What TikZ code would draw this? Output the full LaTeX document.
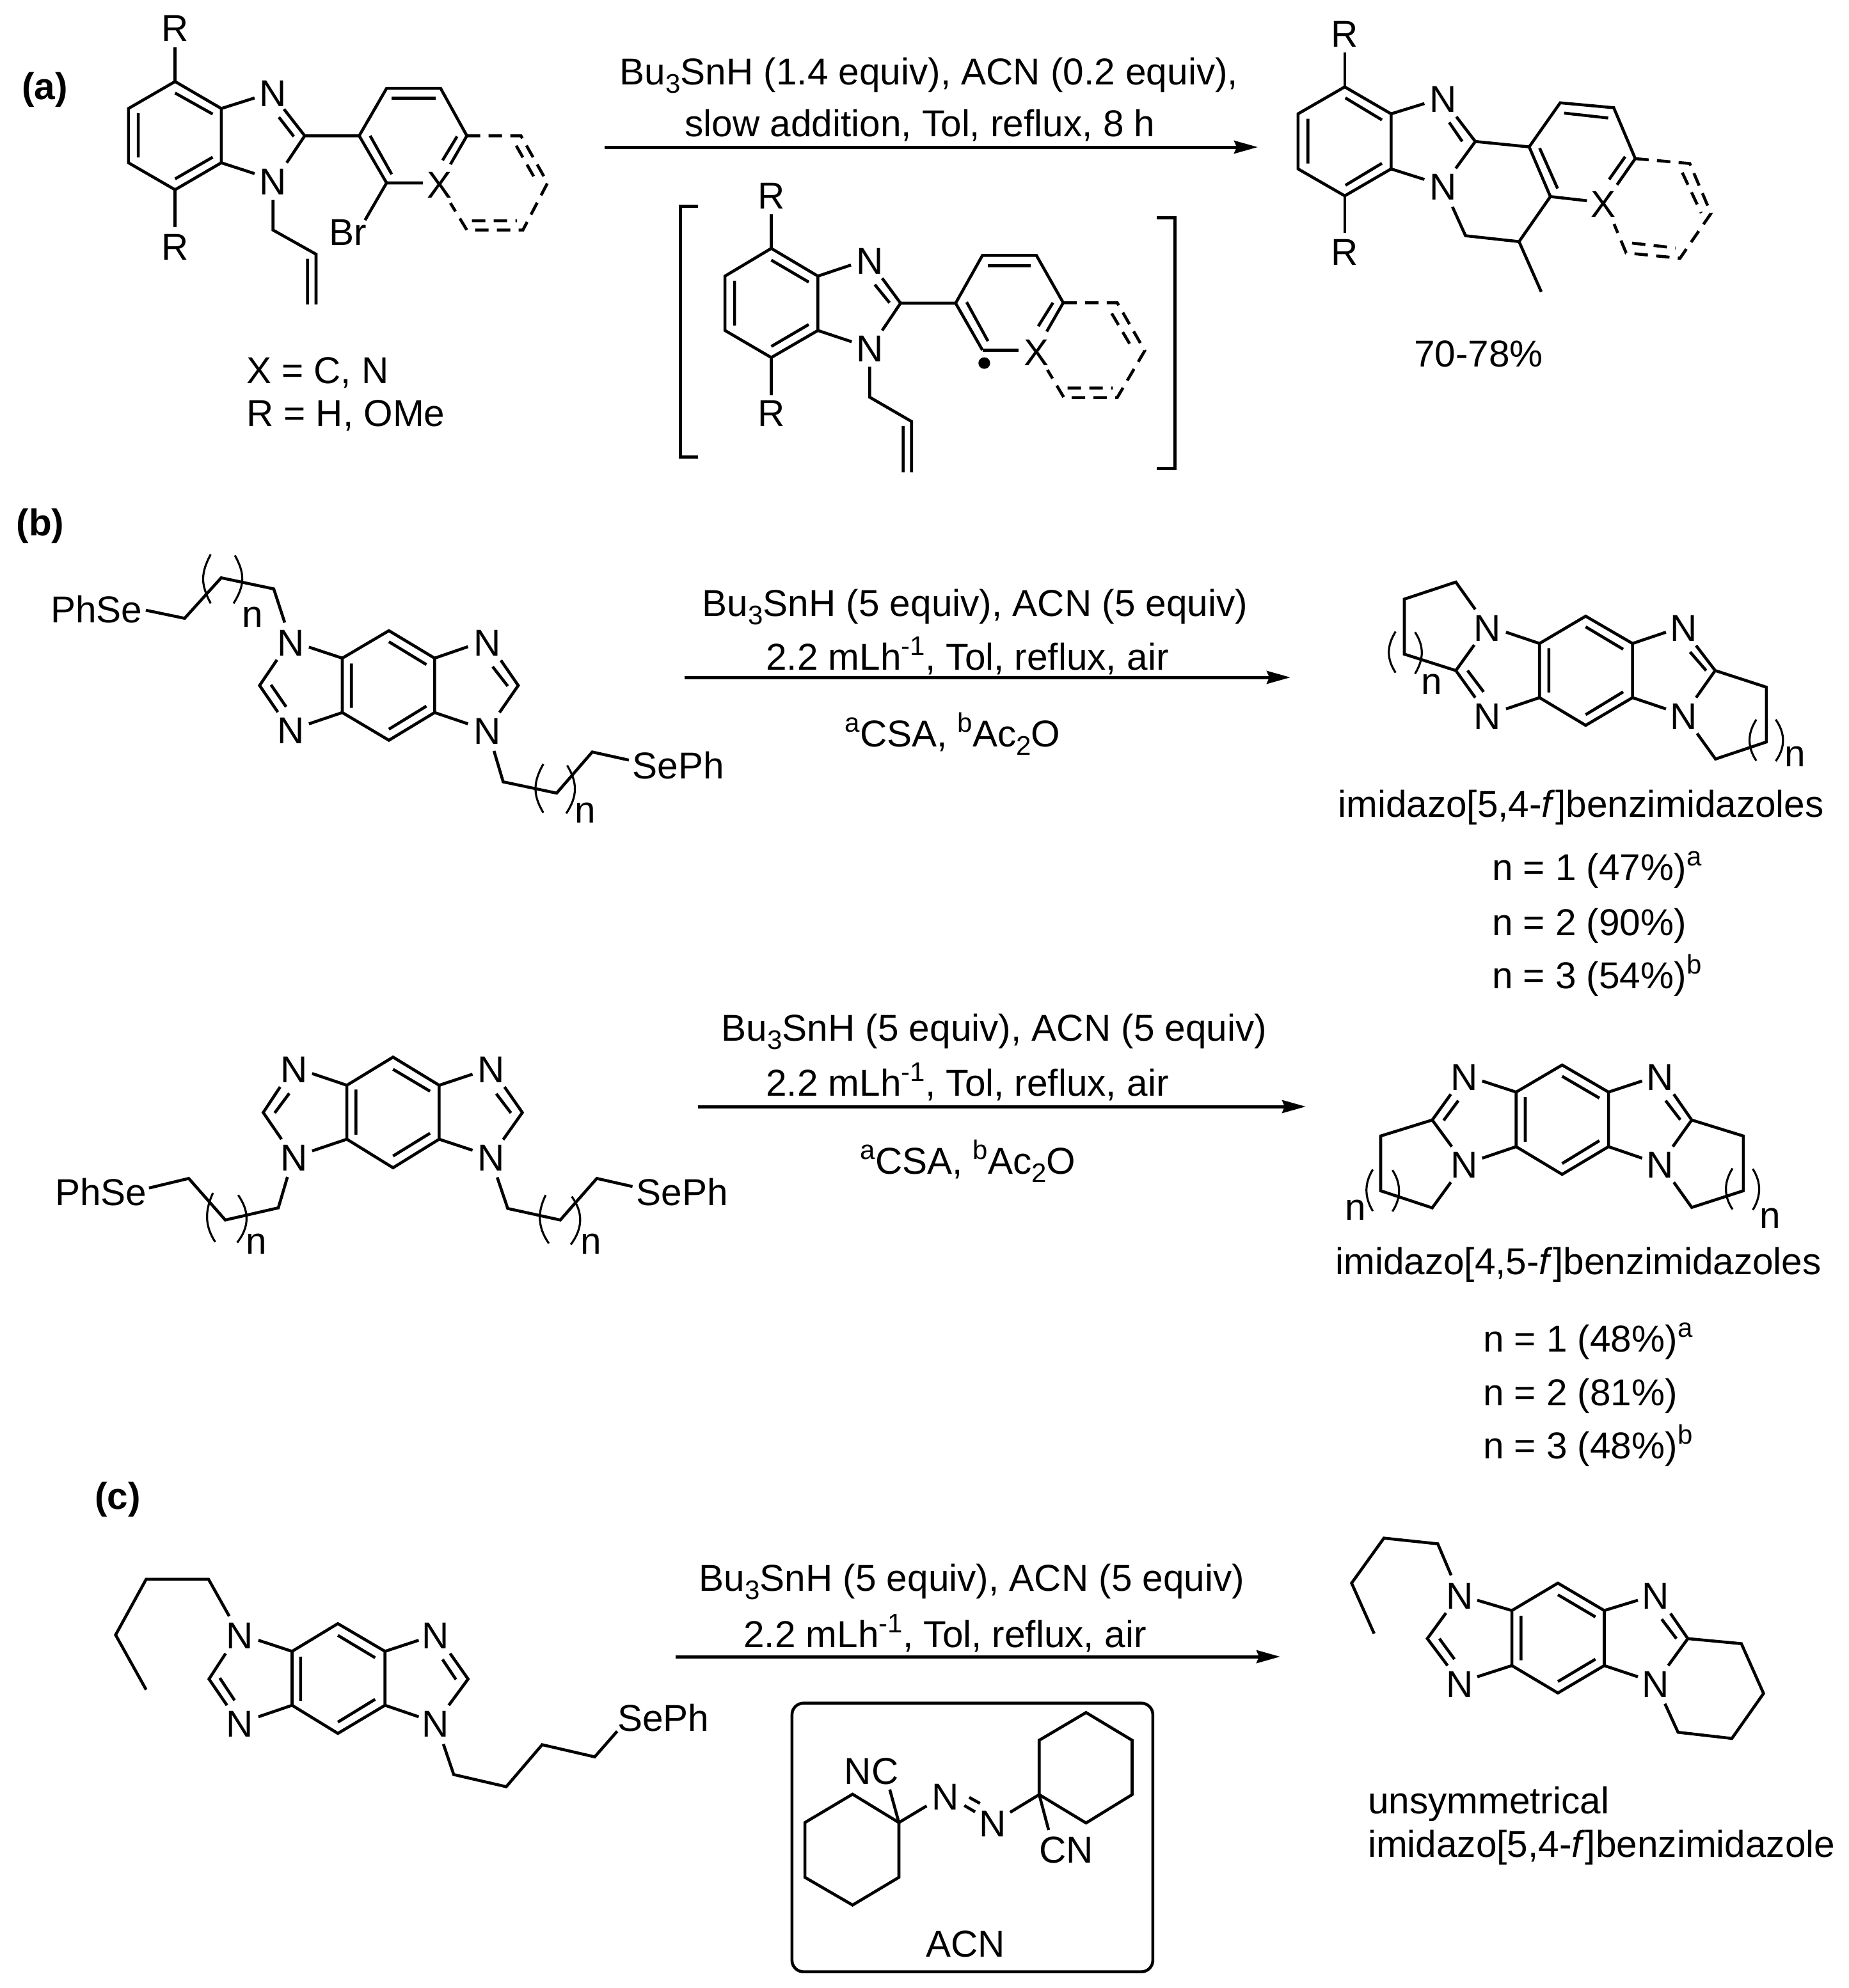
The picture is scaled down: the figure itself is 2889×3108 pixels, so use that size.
\documentclass[tikz,border=0pt]{standalone}
\usepackage{fontspec}
\setmainfont{Liberation Sans}
\usetikzlibrary{arrows.meta}
\newcommand{\sbs}[1]{\raisebox{-13pt}{\fontsize{42}{44}\selectfont #1}}
\newcommand{\sps}[1]{\raisebox{23pt}{\fontsize{42}{44}\selectfont #1}}
\tikzset{
  bond/.style={line width=4.6pt},
  dbond/.style={line width=4.6pt,dash pattern=on 21pt off 13pt},
  paren/.style={line width=3.2pt},
  atom/.style={inner sep=0pt,outer sep=0pt,font=\fontsize{58.5}{70}\selectfont},
  label/.style={atom,anchor=base west},
  clabel/.style={atom,anchor=center},
  blabel/.style={atom,anchor=base},
  tag/.style={inner sep=0pt,font=\fontsize{58.5}{70}\selectfont\bfseries},
  rxn/.style={line width=5pt,-{Stealth[length=37pt,width=20pt,inset=4pt]}},
  brk/.style={line width=5pt},
  za/.style={shift={(0,0)},x=.6122pt,y=-.4847pt},
  zi/.style={shift={(1000,260)},x=.5740pt,y=-.3333pt},
  zp/.style={shift={(1960,0)},x=.5102pt,y=-.3827pt},
  zba/.style={shift={(40,800)},x=.7143pt,y=-.3333pt},
  zbb/.style={shift={(2060,880)},x=.5230pt,y=-.3333pt},
  zbc/.style={shift={(40,1600)},x=.7143pt,y=-.3333pt},
  zbd/.style={shift={(2060,1620)},x=.5102pt,y=-.3333pt},
  zca/.style={shift={(100,2360)},x=.7018pt,y=-.3333pt},
  zcb/.style={shift={(1200,2640)},x=.4209pt,y=-.3333pt},
  zcc/.style={shift={(2060,2360)},x=.5102pt,y=-.3571pt},
}
\begin{document}
\begin{tikzpicture}[x=1pt,y=-1pt]
\useasboundingbox (0,0) rectangle (2889,3108);
\fill[white] (0,0) rectangle (2889,3108);

% ---------- (a) reactant
\node[tag] (taga) at (70,140) {(a)};
\begin{scope}[za,bond]
\draw (447,263)--(565,350)--(565,525)--(447,612)--(328,525)--(328,350)--cycle;
\draw (447,300)--(543,368) (447,577)--(543,507) (353,365)--(353,508);
\node[clabel] (aR1) at (447,92) {R}; \draw (447,152)--(447,263);
\node[clabel] (aR2) at (447,797) {R}; \draw (447,612)--(447,733);
\node[clabel] (aN1) at (697,302) {N}; \draw (565,350)--(650,316);
\draw (778,438)--(725,352) (750,440)--(712,378) (778,438)--(732,525);
\node[clabel] (aN2) at (697,587) {N}; \draw (565,525)--(650,560);
\draw (697,645)--(697,742)--(807,820)--(807,982) (785,835)--(785,982);
\draw (778,438)--(917,438)--(987,285)--(1125,285)--(1192,438);
\draw (1000,317)--(1112,317);
\draw (917,438)--(987,590) (945,438)--(1000,562);
\draw (1192,438)--(1150,530) (1167,440)--(1130,517);
\draw (987,590)--(1080,590) (987,590)--(932,710);
\node[clabel] (aX) at (1123,597) {X};
\node[clabel] (aBr) at (888,750) {Br};
\draw[dbond] (1192,438)--(1330,438)--(1398,590)--(1335,742)--(1192,742)--(1150,655);
\draw[dbond] (1318,470)--(1372,590) (1205,712)--(1320,712);
\end{scope}
\node[label] (aXeq) at (385,599) {X = C, N};
\node[label] (aReq) at (385,666) {R = H, OMe};

% ---------- (a) conditions
\coordinate (arrA1) at (945,230); \coordinate (arrA2) at (1966,230);
\draw[rxn] (arrA1)--(arrA2);
\node[blabel] (condA1) at (1452,132) {Bu\sbs{3}SnH (1.4 equiv), ACN (0.2 equiv),};
\node[blabel] (condA2) at (1438,213) {slow addition, Tol, reflux, 8 h};

% ---------- (a) intermediate
\begin{scope}[zi,bond]
\draw[brk] (158,187)--(110,187)--(110,1363)--(158,1363);
\draw[brk] (1408,241)--(1458,241)--(1458,1417)--(1408,1417);
\draw (358,385)--(485,515)--(485,770)--(358,897)--(232,770)--(232,515)--cycle;
\draw (358,440)--(460,543) (358,845)--(460,742) (258,537)--(258,747);
\node[clabel] (iR1) at (358,140) {R}; \draw (358,225)--(358,385);
\node[clabel] (iR2) at (358,1160) {R}; \draw (358,897)--(358,1075);
\node[clabel] (iN1) at (626,445) {N}; \draw (485,515)--(575,463);
\draw (710,642)--(660,525) (680,640)--(640,555) (710,642)--(660,770);
\node[clabel] (iN2) at (626,857) {N}; \draw (485,770)--(577,823);
\draw (626,940)--(626,1083)--(740,1197)--(740,1435) (717,1218)--(717,1435);
\draw (710,642)--(860,642)--(933,418)--(1080,418)--(1153,640);
\draw (947,467)--(1065,467);
\draw (860,642)--(933,862) (890,637)--(948,820);
\draw (1153,640)--(1108,775) (1125,640)--(1085,750);
\draw (933,862)--(1032,862);
\node[clabel] (iX) at (1080,875) {X};
\fill (938,923) circle[x radius=16,y radius=27];
\draw[dbond] (1153,640)--(1300,640)--(1375,865)--(1300,1085)--(1155,1085)--(1110,955);
\draw[dbond] (1285,690)--(1345,865) (1165,1040)--(1288,1040);
\end{scope}

% ---------- (a) product
\begin{scope}[zp,bond]
\draw (278,355)--(420,465)--(420,690)--(278,800)--(135,690)--(135,465)--cycle;
\draw (280,400)--(392,490) (280,757)--(392,667) (165,485)--(165,668);
\node[clabel] (pR1) at (278,140) {R}; \draw (278,213)--(278,355);
\node[clabel] (pR2) at (278,1030) {R}; \draw (278,800)--(278,952);
\node[clabel] (pN1) at (580,405) {N}; \draw (420,465)--(522,423);
\draw (678,578)--(620,477) (638,578)--(598,500) (678,578)--(618,688);
\node[clabel] (pN2) at (580,765) {N}; \draw (420,690)--(522,733);
\draw (678,578)--(843,600)--(938,420)--(1102,440)--(1168,648);
\draw (950,462)--(1085,482);
\draw (843,600)--(908,803) (875,605)--(930,770);
\draw (1168,648)--(1112,755) (1137,640)--(1088,733);
\draw (908,803)--(1020,820);
\node[clabel] (pX) at (1070,835) {X};
\draw (908,803)--(812,987)--(880,1192) (812,987)--(648,963)--(608,845);
\draw[dbond] (1168,648)--(1335,668)--(1400,872)--(1305,1055)--(1140,1033)--(1103,915);
\draw[dbond] (1312,705)--(1370,870) (1158,993)--(1292,1013);
\node[clabel] (pY) at (688,1445) {70-78\%};
\end{scope}

% ---------- (b) upper
\node[tag] (tagb) at (63,822) {(b)};
\begin{scope}[zba,bond]
\node[clabel] (baPh) at (155,457) {PhSe};
\draw (263,462)--(348,500)--(428,310)--(543,362)--(567,520);
\draw[paren] (405,200) .. controls (383,290) and (383,340) .. (405,430);
\draw[paren] (458,205) .. controls (480,290) and (480,345) .. (455,430);
\node[clabel] (ban1) at (497,495) {n};
\node[clabel] (baN1) at (580,615) {N}; \node[clabel] (baN2) at (580,1028) {N};
\node[clabel] (baN3) at (1010,615) {N}; \node[clabel] (baN4) at (1010,1030) {N};
\draw (795,558)--(895,687)--(895,942)--(795,1072)--(693,942)--(693,687)--cycle;
\draw (795,610)--(877,717) (795,1020)--(877,912) (713,712)--(713,920);
\draw (620,635)--(693,687) (620,995)--(693,942) (968,633)--(895,687) (968,995)--(895,942);
\draw (550,695)--(512,815)--(552,940) (537,812)--(570,915);
\draw (1040,697)--(1078,815)--(1037,942) (1022,727)--(1055,818);
\draw (1025,1122)--(1045,1267)--(1162,1320)--(1240,1127)--(1320,1165);
\draw[paren] (1133,1183) .. controls (1110,1270) and (1110,1330) .. (1133,1412);
\draw[paren] (1185,1190) .. controls (1208,1270) and (1208,1335) .. (1183,1415);
\node[clabel] (ban2) at (1225,1412) {n};
\node[clabel] (baSe) at (1428,1190) {SePh};
\end{scope}
\coordinate (arrB1) at (1070,1059); \coordinate (arrB2) at (2017,1059);
\draw[rxn] (arrB1)--(arrB2);
\node[blabel] (condB1) at (1524,963) {Bu\sbs{3}SnH (5 equiv), ACN (5 equiv)};
\node[blabel] (condB2) at (1512,1047) {2.2 mLh\sps{-1}, Tol, reflux, air};
\node[blabel] (condB3) at (1489,1167) {\sps{a}CSA, \sps{b}Ac\sbs{2}O};

\begin{scope}[zbb,bond]
\node[clabel] (bbN1) at (505,307) {N}; \node[clabel] (bbN2) at (505,720) {N};
\node[clabel] (bbN3) at (1093,307) {N}; \node[clabel] (bbN4) at (1093,720) {N};
\draw (800,250)--(940,378)--(940,632)--(800,762)--(662,632)--(662,378)--cycle;
\draw (800,300)--(912,405) (800,712)--(912,605) (690,400)--(690,608);
\draw (562,325)--(662,378) (562,685)--(662,632) (1040,325)--(940,378) (1040,685)--(940,632);
\draw (470,218)--(412,90)--(258,170)--(258,428)--(412,505)--(467,385);
\draw (412,505)--(470,632) (447,505)--(495,605);
\draw[paren] (232,322) .. controls (205,390) and (205,450) .. (232,515);
\draw[paren] (290,325) .. controls (317,390) and (317,450) .. (290,520);
\node[clabel] (bbn1) at (340,570) {n};
\draw (1130,388)--(1187,505)--(1340,583)--(1340,840)--(1188,920)--(1133,800);
\draw (1112,418)--(1160,505) (1187,505)--(1130,632);
\draw[paren] (1310,735) .. controls (1283,800) and (1283,865) .. (1310,928);
\draw[paren] (1368,735) .. controls (1397,800) and (1397,865) .. (1368,930);
\node[clabel] (bbn2) at (1425,908) {n};
\end{scope}
\node[blabel] (bbname) at (2471,1277) {imidazo[5,4-\textit{f}]benzimidazoles};
\node[label] (bby1) at (2332,1376) {n = 1 (47\%)\sps{a}};
\node[label] (bby2) at (2332,1462) {n = 2 (90\%)};
\node[label] (bby3) at (2332,1545) {n = 3 (54\%)\sps{b}};

% ---------- (b) lower
\begin{scope}[zbc,bond]
\node[clabel] (bcPh) at (165,792) {PhSe};
\draw (270,772)--(357,727)--(437,922)--(553,865)--(573,720);
\draw[paren] (410,795) .. controls (392,880) and (392,950) .. (415,1025);
\draw[paren] (465,805) .. controls (490,880) and (490,955) .. (463,1028);
\node[clabel] (bcn1) at (505,1035) {n};
\node[clabel] (bcN1) at (588,217) {N}; \node[clabel] (bcN2) at (588,630) {N};
\node[clabel] (bcN3) at (1018,217) {N}; \node[clabel] (bcN4) at (1018,630) {N};
\draw (804,158)--(905,290)--(905,543)--(804,677)--(703,543)--(703,290)--cycle;
\draw (804,215)--(885,318) (804,622)--(885,515) (723,310)--(723,522);
\draw (627,235)--(703,290) (627,598)--(703,543) (978,238)--(905,290) (978,595)--(905,543);
\draw (557,298)--(520,418)--(560,543) (577,328)--(545,420);
\draw (1048,298)--(1087,418)--(1045,545) (1030,330)--(1062,420);
\draw (1032,722)--(1055,868)--(1170,922)--(1250,727)--(1328,765);
\draw[paren] (1138,805) .. controls (1120,885) and (1120,955) .. (1145,1032);
\draw[paren] (1195,812) .. controls (1220,885) and (1220,960) .. (1193,1037);
\node[clabel] (bcn2) at (1237,1035) {n};
\node[clabel] (bcSe) at (1437,792) {SePh};
\end{scope}
\coordinate (arrC1) at (1091,1730); \coordinate (arrC2) at (2041,1730);
\draw[rxn] (arrC1)--(arrC2);
\node[blabel] (condC1) at (1554,1627) {Bu\sbs{3}SnH (5 equiv), ACN (5 equiv)};
\node[blabel] (condC2) at (1512,1713) {2.2 mLh\sps{-1}, Tol, reflux, air};
\node[blabel] (condC3) at (1513,1835) {\sps{a}CSA, \sps{b}Ac\sbs{2}O};

\begin{scope}[zbd,bond]
\node[clabel] (bdN1) at (448,193) {N}; \node[clabel] (bdN2) at (448,605) {N};
\node[clabel] (bdN3) at (1048,193) {N}; \node[clabel] (bdN4) at (1048,605) {N};
\draw (748,135)--(890,262)--(890,518)--(748,648)--(607,518)--(607,262)--cycle;
\draw (748,188)--(862,290) (748,597)--(862,490) (635,285)--(635,495);
\draw (503,210)--(607,262) (503,572)--(607,518) (993,210)--(890,262) (993,572)--(890,518);
\draw (407,272)--(350,393)--(192,468)--(192,725)--(350,805)--(407,685);
\draw (430,302)--(385,395) (350,393)--(410,518);
\draw[paren] (168,625) .. controls (142,690) and (142,755) .. (168,820);
\draw[paren] (228,628) .. controls (255,690) and (255,760) .. (228,822);
\node[clabel] (bdn1) at (115,815) {n};
\draw (1090,272)--(1145,393)--(1303,468)--(1303,725)--(1145,803)--(1090,685);
\draw (1065,302)--(1110,392) (1145,393)--(1087,518);
\draw[paren] (1270,620) .. controls (1243,685) and (1243,750) .. (1270,812);
\draw[paren] (1332,622) .. controls (1358,685) and (1358,750) .. (1332,815);
\node[clabel] (bdn2) at (1385,855) {n};
\end{scope}
\node[blabel] (bdname) at (2467,1992) {imidazo[4,5-\textit{f}]benzimidazoles};
\node[label] (bdy1) at (2318,2113) {n = 1 (48\%)\sps{a}};
\node[label] (bdy2) at (2318,2197) {n = 2 (81\%)};
\node[label] (bdy3) at (2318,2280) {n = 3 (48\%)\sps{b}};

% ---------- (c)
\node[tag] (tagc) at (184,2344) {(c)};
\begin{scope}[zca,bond]
\draw (183,845)--(115,588)--(183,327)--(322,327)--(368,500);
\node[clabel] (caN1) at (392,592) {N}; \node[clabel] (caN2) at (392,1007) {N};
\node[clabel] (caN3) at (828,592) {N}; \node[clabel] (caN4) at (828,1007) {N};
\draw (610,535)--(715,665)--(715,918)--(610,1050)--(508,918)--(508,665)--cycle;
\draw (610,590)--(693,695) (610,997)--(693,890) (527,690)--(527,897);
\draw (433,613)--(508,665) (433,972)--(508,918) (790,613)--(715,665) (790,972)--(715,918);
\draw (360,675)--(323,795)--(363,918) (347,790)--(380,895);
\draw (860,675)--(900,795)--(857,918) (843,703)--(873,797);
\draw (845,1100)--(868,1243)--(985,1300)--(1065,1103)--(1182,1160)--(1232,1040);
\node[clabel] (caSe) at (1335,977) {SePh};
\end{scope}
\coordinate (arrD1) at (1056,2590); \coordinate (arrD2) at (2001,2590);
\draw[rxn] (arrD1)--(arrD2);
\node[blabel] (condD1) at (1519,2487) {Bu\sbs{3}SnH (5 equiv), ACN (5 equiv)};
\node[blabel] (condD2) at (1477,2575) {2.2 mLh\sps{-1}, Tol, reflux, air};

\begin{scope}[zcb,bond]
\draw[rounded corners=18pt] (90,68) rectangle (1430,1328);
\draw (315,495)--(487,628)--(487,885)--(315,1015)--(138,885)--(138,628)--cycle;
\node[clabel] (cbNC) at (385,388) {NC};
\draw (453,473)--(487,628)--(590,550);
\node[clabel] (cbN1) at (660,507) {N};
\draw (730,548)--(770,578) (748,510)--(788,538);
\node[clabel] (cbN2) at (835,635) {N};
\draw (900,580)--(1008,497);
\draw (1182,112)--(1353,242)--(1353,497)--(1182,630)--(1008,497)--(1008,242)--cycle;
\draw (1008,497)--(1043,663);
\node[clabel] (cbCN) at (1108,757) {CN};
\node[clabel] (cbACN) at (735,1197) {ACN};
\end{scope}

\begin{scope}[zcc,bond]
\draw (172,543)--(103,322)--(202,125)--(367,150)--(408,288);
\node[clabel] (ccN1) at (434,378) {N}; \node[clabel] (ccN2) at (434,765) {N};
\node[clabel] (ccN3) at (1035,378) {N}; \node[clabel] (ccN4) at (1035,765) {N};
\draw (735,322)--(877,442)--(877,683)--(735,803)--(594,683)--(594,442)--cycle;
\draw (735,373)--(850,470) (735,753)--(850,655) (622,465)--(622,660);
\draw (488,397)--(594,442) (488,732)--(594,683) (980,397)--(877,442) (980,732)--(877,683);
\draw (392,453)--(335,565)--(397,683) (372,565)--(418,655);
\draw (1080,455)--(1133,565)--(1297,587)--(1365,805)--(1268,1002)--(1103,975)--(1063,850);
\draw (1053,480)--(1098,565) (1133,565)--(1073,683);
\end{scope}
\node[label] (ccname1) at (2138,2835) {unsymmetrical};
\node[label] (ccname2) at (2138,2903) {imidazo[5,4-\textit{f}]benzimidazole};
\end{tikzpicture}
\end{document}
